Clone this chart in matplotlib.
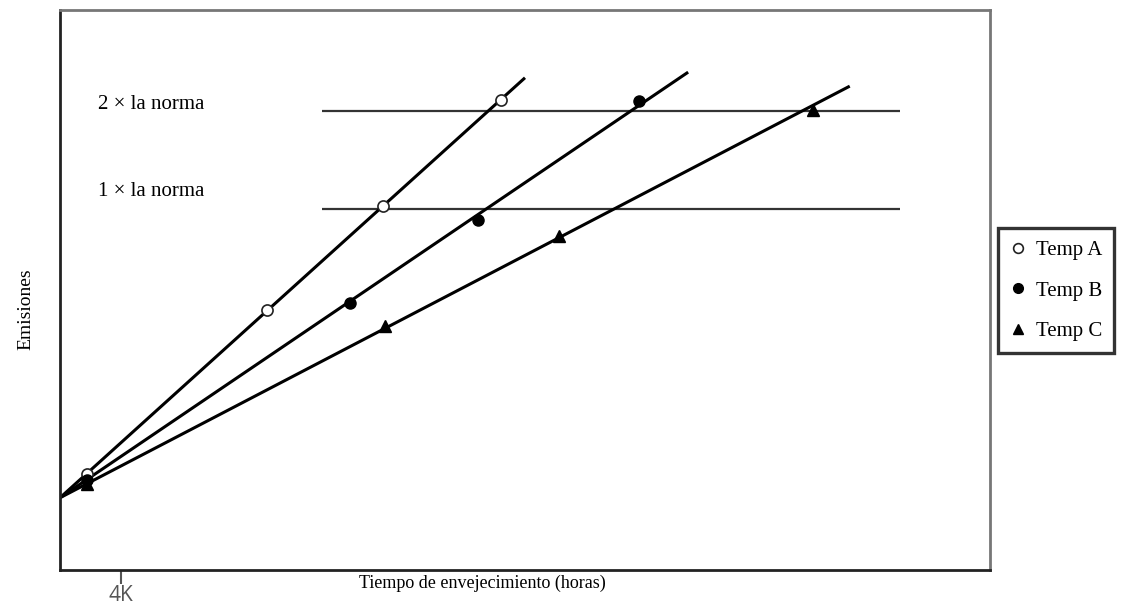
import matplotlib
matplotlib.use("Agg")
import matplotlib.pyplot as plt
from matplotlib.lines import Line2D

# Data (x in thousands of hours, y in arbitrary emission units)
origin = (0.0, 12.9)
series_names = ["Temp A", "Temp B", "Temp C"]
line_end_x = [30.5, 41.2, 51.8]
line_end_y = [87.9, 88.9, 86.4]
markers_a_x = [1.8, 13.6, 21.2, 28.9]
markers_a_y = [17.1, 46.4, 65.0, 83.9]
markers_b_x = [1.8, 19.0, 27.4, 38.0]
markers_b_y = [16.1, 47.7, 62.5, 83.8]
markers_c_x = [1.8, 21.3, 32.7, 49.4]
markers_c_y = [15.4, 43.6, 59.6, 82.1]
norm_levels = [64.5, 82.0]
norm_labels = ["1 × la norma", "2 × la norma"]
norm_xmin, norm_xmax = 17.2, 55.1
xtick_pos = [4]
xtick_labels = ["4K"]

serif = "Liberation Serif"
label_y = [67.5, 83.2]   # text placement (layout)

fig = plt.figure(figsize=(11.34, 6.14), dpi=100)
ax = fig.add_axes([60/1134, 44/614, 930/1134, 560/614])
ax.set_xlim(0, 61)
ax.set_ylim(0, 100)

for s in ["left", "bottom"]:
    ax.spines[s].set_color("#222222")
    ax.spines[s].set_linewidth(2.0)
for s in ["top", "right"]:
    ax.spines[s].set_color("#777777")
    ax.spines[s].set_linewidth(2.0)

mx = [markers_a_x, markers_b_x, markers_c_x]
my = [markers_a_y, markers_b_y, markers_c_y]
mstyle = [dict(marker="o", mfc="white", mec="#222222", ms=8, mew=1.2),
          dict(marker="o", mfc="black", mec="black", ms=8, mew=1),
          dict(marker="^", mfc="black", mec="black", ms=8, mew=1)]
for i in range(3):
    ax.plot([origin[0], line_end_x[i]], [origin[1], line_end_y[i]], color="black", lw=2.2,
            solid_capstyle="butt", zorder=2)
    ax.plot(mx[i], my[i], ls="none", zorder=3, **mstyle[i])

for lvl, lab, ty in zip(norm_levels, norm_labels, label_y):
    ax.hlines(lvl, norm_xmin, norm_xmax, color="#333333", lw=1.6, zorder=1)
    ax.text(2.5, ty, lab, fontsize=15, family=serif, va="center", ha="left")

ax.set_yticks([])
ax.set_xticks(xtick_pos)
ax.set_xticklabels(xtick_labels, fontsize=15, color="#555555", family="Open Sans")
ax.tick_params(axis="x", length=10, width=1.5, color="#555555", pad=1)

ax.set_xlabel("Tiempo de envejecimiento (horas)", fontsize=13, family=serif)
ax.xaxis.set_label_coords(0.454, -0.008)
ax.set_ylabel("Emisiones", fontsize=14, family=serif)
ax.yaxis.set_label_coords(-0.028, 0.465)

handles = [Line2D([], [], ls="none", **dict(mstyle[i], ms=7)) for i in range(3)]
leg = fig.legend(handles, series_names, loc="upper left",
                 bbox_to_anchor=(998/1134, 1 - 350/614, 140/1134, 122/614),
                 prop={"family": serif, "size": 15}, frameon=True, fancybox=False,
                 handlelength=0.7, handletextpad=0.5, borderpad=0.6, labelspacing=1.0,
                 borderaxespad=0)
leg.get_frame().set_edgecolor("black")
leg.get_frame().set_linewidth(2.4)

fig.savefig("out.png", dpi=100)
